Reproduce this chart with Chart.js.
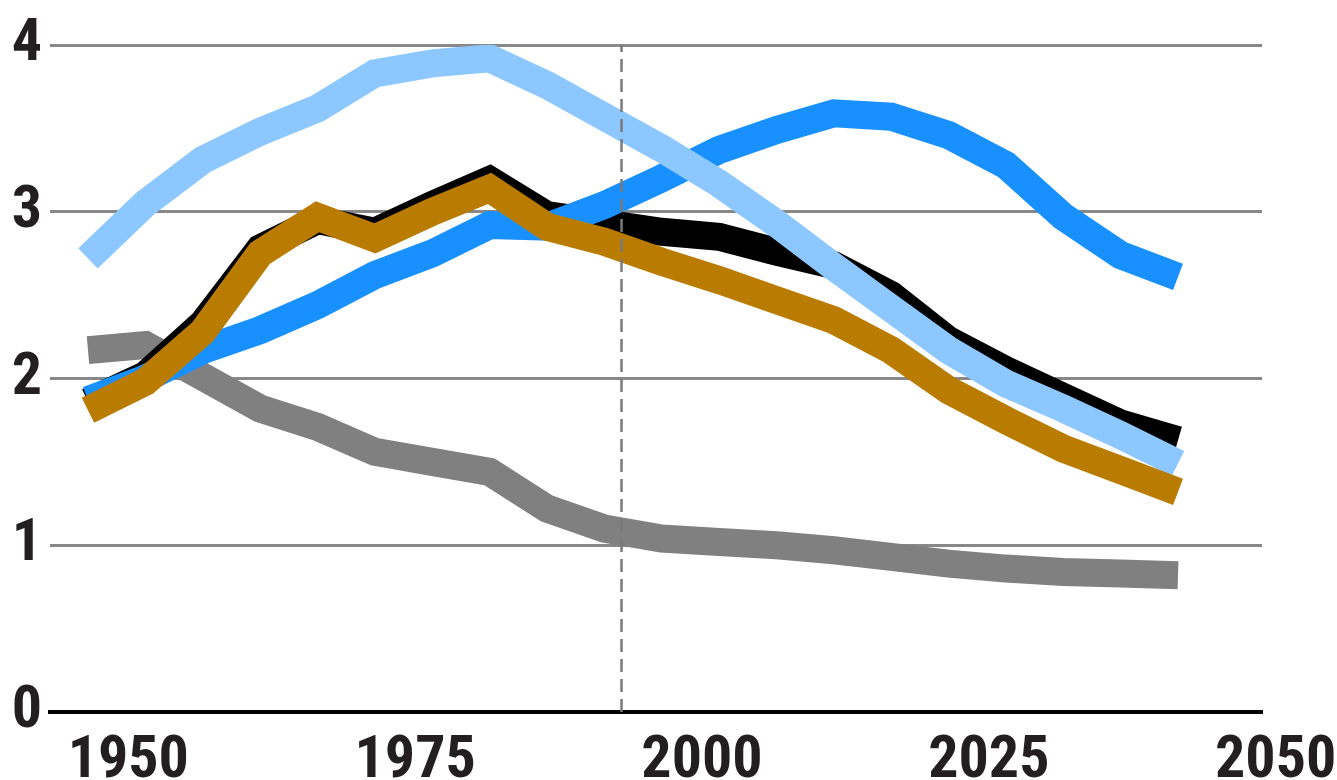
<!DOCTYPE html>
<html>
<head>
<meta charset="utf-8">
<script src="https://cdn.jsdelivr.net/npm/chart.js@4/dist/chart.umd.min.js"></script>
<style>
  html, body { margin: 0; padding: 0; background: #fff; }
  #wrap { width: 1337px; height: 780px; position: relative; }
</style>
</head>
<body>
<div id="wrap"><canvas id="chart"></canvas></div>
<script>
// ─── DATA ─────────────────────────────────────────────────
// five-year periods, plotted at their midpoints
const years = [1952.5, 1957.5, 1962.5, 1967.5, 1972.5, 1977.5, 1982.5, 1987.5, 1992.5, 1997.5,
               2002.5, 2007.5, 2012.5, 2017.5, 2022.5, 2027.5, 2032.5, 2037.5, 2042.5, 2047.5];

const lightBlue = [2.72, 3.05, 3.31, 3.48, 3.62, 3.83, 3.89, 3.92, 3.76, 3.57,
                   3.38, 3.17, 2.93, 2.67, 2.42, 2.17, 1.97, 1.82, 1.66, 1.49];
const blue      = [1.87, 2.00, 2.17, 2.29, 2.44, 2.62, 2.75, 2.92, 2.91, 3.04,
                   3.20, 3.37, 3.49, 3.59, 3.57, 3.46, 3.28, 2.97, 2.74, 2.61];
const black     = [1.86, 2.02, 2.33, 2.78, 2.95, 2.88, 3.04, 3.19, 2.98, 2.93,
                   2.88, 2.85, 2.76, 2.68, 2.50, 2.23, 2.05, 1.89, 1.73, 1.63];
const orange    = [1.81, 1.98, 2.28, 2.75, 2.97, 2.84, 3.00, 3.14, 2.91, 2.82,
                   2.70, 2.59, 2.47, 2.35, 2.17, 1.93, 1.75, 1.58, 1.45, 1.32];
const gray      = [2.17, 2.20, 2.01, 1.82, 1.71, 1.56, 1.50, 1.44, 1.22, 1.10,
                   1.04, 1.02, 1.00, 0.97, 0.93, 0.89, 0.86, 0.84, 0.83, 0.82];

const xTicks = [1950, 1975, 2000, 2025, 2050];
const yTicks = [0, 1, 2, 3, 4];
const dividerYear = 1999;   // dashed line: estimates | projections

// ─── STYLE ────────────────────────────────────────────────
const C = {
  lightBlue: '#8cc8ff',
  blue:      '#1890ff',
  black:     '#000000',
  orange:    '#b97c00',
  gray:      '#808080',
  grid:      '#888888',
  text:      '#231f20',
};
const FONT = "'Liberation Sans Narrow', Roboto, 'Liberation Sans', sans-serif";
const TICK_FONT = { family: FONT, size: 60, weight: 'bold condensed' };
const LW = 28;

function series(values, color, order) {
  return {
    data: years.map((x, i) => ({ x, y: values[i] })),
    borderColor: color,
    borderWidth: LW,
    borderJoinStyle: 'miter',
    borderCapStyle: 'butt',
    pointRadius: 0,
    tension: 0,
    fill: false,
    order,
  };
}

new Chart(document.getElementById('chart'), {
  type: 'line',
  data: {
    datasets: [
      {
        data: [{ x: dividerYear, y: yTicks[0] }, { x: dividerYear, y: yTicks[yTicks.length - 1] }],
        borderColor: '#7a7a7a',
        borderWidth: 2.5,
        borderDash: [13, 7],
        pointRadius: 0,
        order: 0,
      },
      series(orange, C.orange, 1),
      series(lightBlue, C.lightBlue, 2),
      series(blue, C.blue, 3),
      series(black, C.black, 4),
      series(gray, C.gray, 5),
    ],
  },
  options: {
    responsive: true,
    maintainAspectRatio: false,
    animation: false,
    layout: { padding: { top: 45, right: 75, left: 0, bottom: 0 } },
    plugins: { legend: { display: false }, tooltip: { enabled: false } },
    scales: {
      x: {
        type: 'linear',
        min: 1949.19,
        max: 2054.82,
        afterBuildTicks: s => { s.ticks = xTicks.map(v => ({ value: v })); },
        afterFit: s => { s.height = 68; s.paddingLeft = 0; s.paddingRight = 0; },
        grid: { display: false, drawTicks: false },
        border: { color: '#000', width: 4 },
        ticks: {
          autoSkip: false,
          maxRotation: 0,
          labelOffset: 69,
          padding: 14,
          color: C.text,
          font: TICK_FONT,
          callback: v => String(v),
        },
      },
      y: {
        min: yTicks[0],
        max: yTicks[yTicks.length - 1],
        afterBuildTicks: s => { s.ticks = yTicks.map(v => ({ value: v })); },
        afterFit: s => { s.width = 50; s.paddingTop = 0; s.paddingBottom = 0; },
        grid: { color: C.grid, lineWidth: 3, drawTicks: false },
        border: { display: false },
        ticks: {
          padding: 8,
          color: C.text,
          font: TICK_FONT,
          callback: v => String(v),
        },
      },
    },
  },
});
</script>
</body>
</html>
